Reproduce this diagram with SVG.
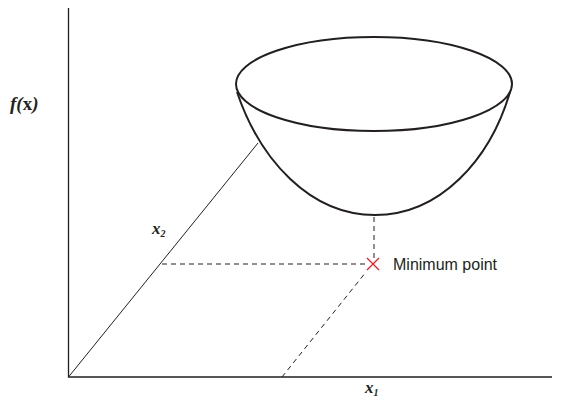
<svg xmlns="http://www.w3.org/2000/svg" width="582" height="403" viewBox="0 0 582 403">
<style>
.ax{stroke:#231f20;stroke-width:1.3;fill:none}
.thin{stroke:#231f20;stroke-width:1;fill:none}
.dash{stroke:#231f20;stroke-width:1;fill:none;stroke-dasharray:5,4}
.bowl{stroke:#231f20;stroke-width:2;fill:none}
.lbl{font-family:"Liberation Serif",serif;font-style:italic;font-weight:bold;fill:#231f20}
.txt{font-family:"Liberation Sans",Arial,sans-serif;font-size:16px;fill:#231f20}
</style>
<rect width="582" height="403" fill="#fff"/>
<g id="connectors">
<path class="ax" d="M68.5,8 V377 H552"/>
<path class="thin" d="M68.5,377 L258,143"/>
<path class="dash" d="M162,264 H366"/>
<path class="dash" d="M374,217 V258"/>
<path class="dash" d="M282,377 L366,272"/>
</g>
<g id="bowl">
<ellipse class="bowl" cx="374" cy="84" rx="138" ry="47"/>
<path class="bowl" d="M237,92 C260,160 310,215 375,215 C440,215 490,160 510,92"/>
</g>
<g id="minimum">
<path d="M367,258 L379,270 M379,258 L367,270" stroke="#ed1c24" stroke-width="1.3" fill="none"/>
<text class="txt" x="393" y="270">Minimum point</text>
</g>
<g id="labels">
<text class="lbl" x="10" y="110" font-size="19">f(<tspan font-style="normal">x</tspan>)</text>
<text class="lbl" x="152" y="234" font-size="17">x<tspan font-size="10" dy="3">2</tspan></text>
<text class="lbl" x="365" y="393" font-size="17">x<tspan font-size="10" dy="3">1</tspan></text>
</g>
</svg>
